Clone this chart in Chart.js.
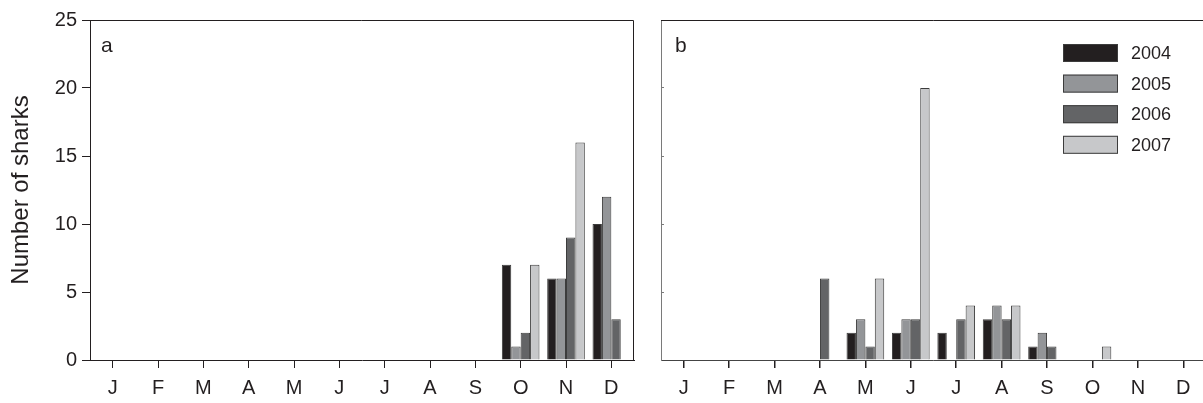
<!DOCTYPE html>
<html><head><meta charset="utf-8">
<script src="https://cdn.jsdelivr.net/npm/chart.js@4.4.1/dist/chart.umd.min.js"></script>
<style>
html,body{margin:0;padding:0;background:#fff;overflow:hidden;width:1203px;height:403px;}
canvas{position:absolute;top:0;}
#ca{left:0;}
#cb{left:640px;}
</style></head><body>
<canvas id="ca" width="645" height="403"></canvas>
<canvas id="cb" width="570" height="403"></canvas>
<script>
const months = ['J','F','M','A','M','J','J','A','S','O','N','D'];
const years = ['2004','2005','2006','2007'];
const colors = ['#231f20','#939598','#636466','#c7c8ca'];
const yTicks = [0,5,10,15,20,25];
const panelLabels = ['a','b'];
const yTitle = 'Number of sharks';
// Panel a
const a2004 = [0,0,0,0,0,0,0,0,0,7,6,10];
const a2005 = [0,0,0,0,0,0,0,0,0,1,6,12];
const a2006 = [0,0,0,0,0,0,0,0,0,2,9,3];
const a2007 = [0,0,0,0,0,0,0,0,0,7,16,0];
// Panel b
const b2004 = [0,0,0,0,2,2,2,3,1,0,0,0];
const b2005 = [0,0,0,0,3,3,0,4,2,0,0,0];
const b2006 = [0,0,0,6,1,3,3,3,1,0,0,0];
const b2007 = [0,0,0,0,6,20,4,4,0,1,0,0];

const FONT = '"Liberation Sans", Arial, Helvetica, sans-serif';
const INK = '#231f20';

function makeDatasets(series){
  return series.map((d,i)=>({
    label: years[i], data: d, backgroundColor: colors[i],
    borderColor: '#3c3c3c', borderWidth: 1,
    categoryPercentage: 0.83, barPercentage: 1.0
  }));
}

const framePlugin = {
  id:'frame',
  afterDraw(chart, args, o){
    const {ctx, chartArea:{left,top,right,bottom}} = chart;
    ctx.save();
    ctx.lineWidth = 1;
    ctx.strokeStyle = o.color || INK;
    ctx.beginPath();
    const t = Math.round(top)+0.5, r = Math.round(right)-0.5;
    ctx.moveTo(Math.round(left), t); ctx.lineTo(r, t); ctx.lineTo(r, Math.round(bottom));
    ctx.stroke();
    ctx.fillStyle = INK;
    ctx.font = '21px ' + FONT;
    ctx.textBaseline = 'alphabetic';
    ctx.textAlign = 'left';
    ctx.fillText(o.letter, left + o.dx, top + 32);
    ctx.restore();
  }
};

const legendPlugin = {
  id:'boxLegend',
  afterDraw(chart, args, o){
    if(!o.show) return;
    const {ctx, chartArea:{left,top}} = chart;
    ctx.save();
    ctx.font = '18px ' + FONT;
    ctx.textBaseline = 'middle';
    ctx.textAlign = 'left';
    chart.data.datasets.forEach((ds,i)=>{
      const x = left + 402, y = top + 24 + i*30.6;
      ctx.fillStyle = ds.backgroundColor;
      ctx.fillRect(x, y, 55, 18);
      ctx.lineWidth = 1;
      ctx.strokeStyle = '#3c3c3c';
      ctx.strokeRect(x+0.5, y+0.5, 54, 17);
      ctx.fillStyle = INK;
      ctx.fillText(ds.label, x + 68, y + 10);
    });
    ctx.restore();
  }
};

function makeChart(id, series, opt){
  return new Chart(document.getElementById(id), {
    type:'bar',
    data:{ labels: months, datasets: makeDatasets(series) },
    plugins:[framePlugin, legendPlugin],
    options:{
      responsive:false, animation:false,
      layout:{ padding:{ top:20, right:opt.padRight, left:0, bottom:0 } },
      plugins:{
        legend:{display:false}, tooltip:{enabled:false},
        frame:{ letter: opt.letter, dx: opt.dx, color: INK },
        boxLegend:{ show: opt.legend }
      },
      scales:{
        x:{
          ticks:{ font:{family:FONT, size:20}, color:INK, padding:8, maxRotation:0, autoSkip:false },
          grid:{ drawOnChartArea:false, offset:false, tickLength:8, color:INK, lineWidth:opt.xTickW },
          border:{ color:opt.xBorder, width:1 },
          afterFit(s){ s.height = 43; }
        },
        y:{
          min:0, max:25,
          afterBuildTicks(s){ s.ticks = yTicks.map(v=>({value:v})); },
          ticks:{ display:opt.yLabels, font:{family:FONT, size:20}, color:INK, padding:5 },
          grid:{ drawOnChartArea:false, tickLength:opt.yTickLen, color:opt.yBorder },
          border:{ color:opt.yBorder, width:1 },
          title:{ display:opt.yLabels, text:yTitle, color:INK, font:{family:FONT, size:24}, padding:{top:7, bottom:0} },
          afterFit(s){ s.width = opt.yWidth; }
        }
      }
    }
  });
}

makeChart('ca', [a2004,a2005,a2006,a2007], {
  letter: panelLabels[0], dx: 11, padRight: 11, yWidth: 90, yLabels: true,
  yTickLen: 8, yBorder: INK, xBorder: INK, xTickW: 1, legend: false
});
makeChart('cb', [b2004,b2005,b2006,b2007], {
  letter: panelLabels[1], dx: 14, padRight: 4, yWidth: 21, yLabels: false,
  yTickLen: -3, yBorder: '#7a7a7a', xBorder: '#444', xTickW: 1.5, legend: true
});
</script>
</body></html>
